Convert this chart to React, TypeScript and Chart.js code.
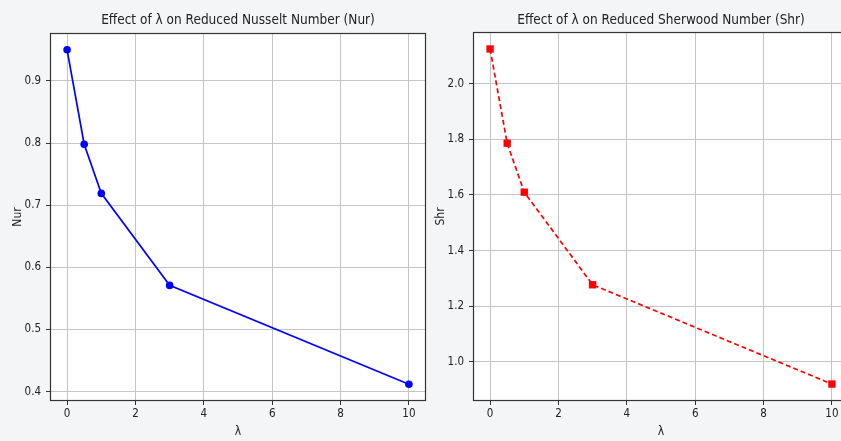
import React, { useEffect, useRef } from "react";
import { Chart, registerables } from "chart.js";

Chart.register(...registerables);

const lambdaValues = [0, 0.5, 1, 3, 10];
const nurValues = [0.95, 0.798, 0.719, 0.571, 0.412];
const shrValues = [2.125, 1.786, 1.61, 1.277, 0.92];
const xTickValues = [0, 2, 4, 6, 8, 10];
const nurTickValues = [0.4, 0.5, 0.6, 0.7, 0.8, 0.9];
const shrTickValues = [1.0, 1.2, 1.4, 1.6, 1.8, 2.0];

const FONT = "'DejaVu Sans Condensed', 'DejaVu Sans', sans-serif";
const TITLE_SIZE = 13.5;
const TICK_SIZE = 11.5;
const LABEL_SIZE = 12;

const framePlugin = {
  id: "frame",
  beforeDraw(chart: any) {
    const { ctx, chartArea } = chart;
    ctx.save();
    ctx.fillStyle = "#ffffff";
    ctx.fillRect(chartArea.left, chartArea.top, chartArea.right - chartArea.left, chartArea.bottom - chartArea.top);
    ctx.restore();
  },
  afterDraw(chart: any) {
    const { ctx, chartArea } = chart;
    ctx.save();
    ctx.strokeStyle = "#333333";
    ctx.lineWidth = 1.2;
    ctx.strokeRect(
      Math.round(chartArea.left) + 0.5,
      Math.round(chartArea.top) + 0.5,
      Math.round(chartArea.right - chartArea.left) - 1,
      Math.round(chartArea.bottom - chartArea.top) - 1
    );
    ctx.restore();
  },
};

type Cfg = {
  title: string;
  yLabel: string;
  values: number[];
  yTicks: number[];
  yMin: number;
  yMax: number;
  color: string;
  pointStyle: string;
  pointRadius: number;
  dash: number[];
  yAxisWidth: number;
  yTitlePad: number;
  padRight: number;
  titleCenter: number;
  areaTop: number;
};

function makeChart(canvas: HTMLCanvasElement, c: Cfg) {
  const titleLH = TITLE_SIZE * 1.2;
  const titleTop = c.titleCenter - titleLH / 2;
  const titleBottom = c.areaTop - titleTop - titleLH;
  const labelLH = LABEL_SIZE * 1.2;
  return new Chart(canvas, {
    type: "line",
    data: {
      datasets: [
        {
          data: lambdaValues.map((x, i) => ({ x, y: c.values[i] })),
          borderColor: c.color,
          backgroundColor: c.color,
          borderWidth: 1.7,
          borderDash: c.dash,
          pointStyle: c.pointStyle as any,
          pointRadius: c.pointRadius,
          pointBorderWidth: 0,
          tension: 0,
          fill: false,
        },
      ],
    },
    options: {
      animation: false,
      responsive: false,
      devicePixelRatio: 1,
      layout: { padding: { left: 0, right: c.padRight, top: 0, bottom: 0 } },
      plugins: {
        legend: { display: false },
        tooltip: { enabled: false },
        title: {
          display: true,
          text: c.title,
          fullSize: false,
          color: "#222",
          font: { family: FONT, size: TITLE_SIZE, weight: "normal" },
          padding: { top: titleTop, bottom: titleBottom },
        },
      },
      scales: {
        x: {
          type: "linear",
          min: -0.5,
          max: 10.5,
          afterBuildTicks: (axis: any) => {
            axis.ticks = xTickValues.map((v) => ({ value: v }));
          },
          afterFit: (scale: any) => {
            scale.height = 40;
          },
          ticks: {
            color: "#222",
            font: { family: FONT, size: TICK_SIZE },
            padding: 2,
            maxRotation: 0,
            callback: (v: any) => String(v),
          },
          grid: { color: "#c4c4c4", lineWidth: 1, tickLength: 4, tickColor: "#333" },
          border: { display: false },
          title: {
            display: true,
            text: "λ",
            color: "#222",
            font: { family: FONT, size: LABEL_SIZE },
            padding: { top: 0, bottom: 441 - 432 - labelLH / 2 },
          },
        },
        y: {
          type: "linear",
          min: c.yMin,
          max: c.yMax,
          afterBuildTicks: (axis: any) => {
            axis.ticks = c.yTicks.map((v) => ({ value: v }));
          },
          afterFit: (scale: any) => {
            scale.width = c.yAxisWidth;
          },
          ticks: {
            color: "#222",
            font: { family: FONT, size: TICK_SIZE },
            padding: 5,
            callback: (v: any) => Number(v).toFixed(1),
          },
          grid: { color: "#c4c4c4", lineWidth: 1, tickLength: 4, tickColor: "#333" },
          border: { display: false },
          title: {
            display: true,
            text: c.yLabel,
            color: "#222",
            font: { family: FONT, size: LABEL_SIZE },
            padding: { top: c.yTitlePad - labelLH / 2, bottom: 0 },
          },
        },
      },
    },
    plugins: [framePlugin],
  } as any);
}

export default function App() {
  const leftRef = useRef<HTMLCanvasElement>(null);
  const rightRef = useRef<HTMLCanvasElement>(null);

  useEffect(() => {
    const a = makeChart(leftRef.current!, {
      title: "Effect of λ on Reduced Nusselt Number (Nur)",
      yLabel: "Nur",
      values: nurValues,
      yTicks: nurTickValues,
      yMin: 0.385,
      yMax: 0.977,
      color: "#0000ff",
      pointStyle: "circle",
      pointRadius: 3.8,
      dash: [],
      yAxisWidth: 50,
      yTitlePad: 18,
      padRight: 14,
      titleCenter: 20,
      areaTop: 33,
    });
    const b = makeChart(rightRef.current!, {
      title: "Effect of λ on Reduced Sherwood Number (Shr)",
      yLabel: "Shr",
      values: shrValues,
      yTicks: shrTickValues,
      yMin: 0.859,
      yMax: 2.186,
      color: "#ff0000",
      pointStyle: "rect",
      pointRadius: 5.2,
      dash: [5, 3],
      yAxisWidth: 43,
      yTitlePad: 10.5,
      padRight: 11,
      titleCenter: 20,
      areaTop: 32,
    });
    return () => {
      a.destroy();
      b.destroy();
    };
  }, []);

  return (
    <div
      style={{
        position: "fixed",
        left: 0,
        top: 0,
        width: 841,
        height: 441,
        overflow: "hidden",
        background: "#f4f5f6",
      }}
    >
      <canvas
        ref={leftRef}
        width={440}
        height={441}
        style={{ position: "absolute", left: 0, top: 0, width: 440, height: 441 }}
      />
      <canvas
        ref={rightRef}
        width={430}
        height={441}
        style={{ position: "absolute", left: 430, top: 0, width: 430, height: 441 }}
      />
    </div>
  );
}
